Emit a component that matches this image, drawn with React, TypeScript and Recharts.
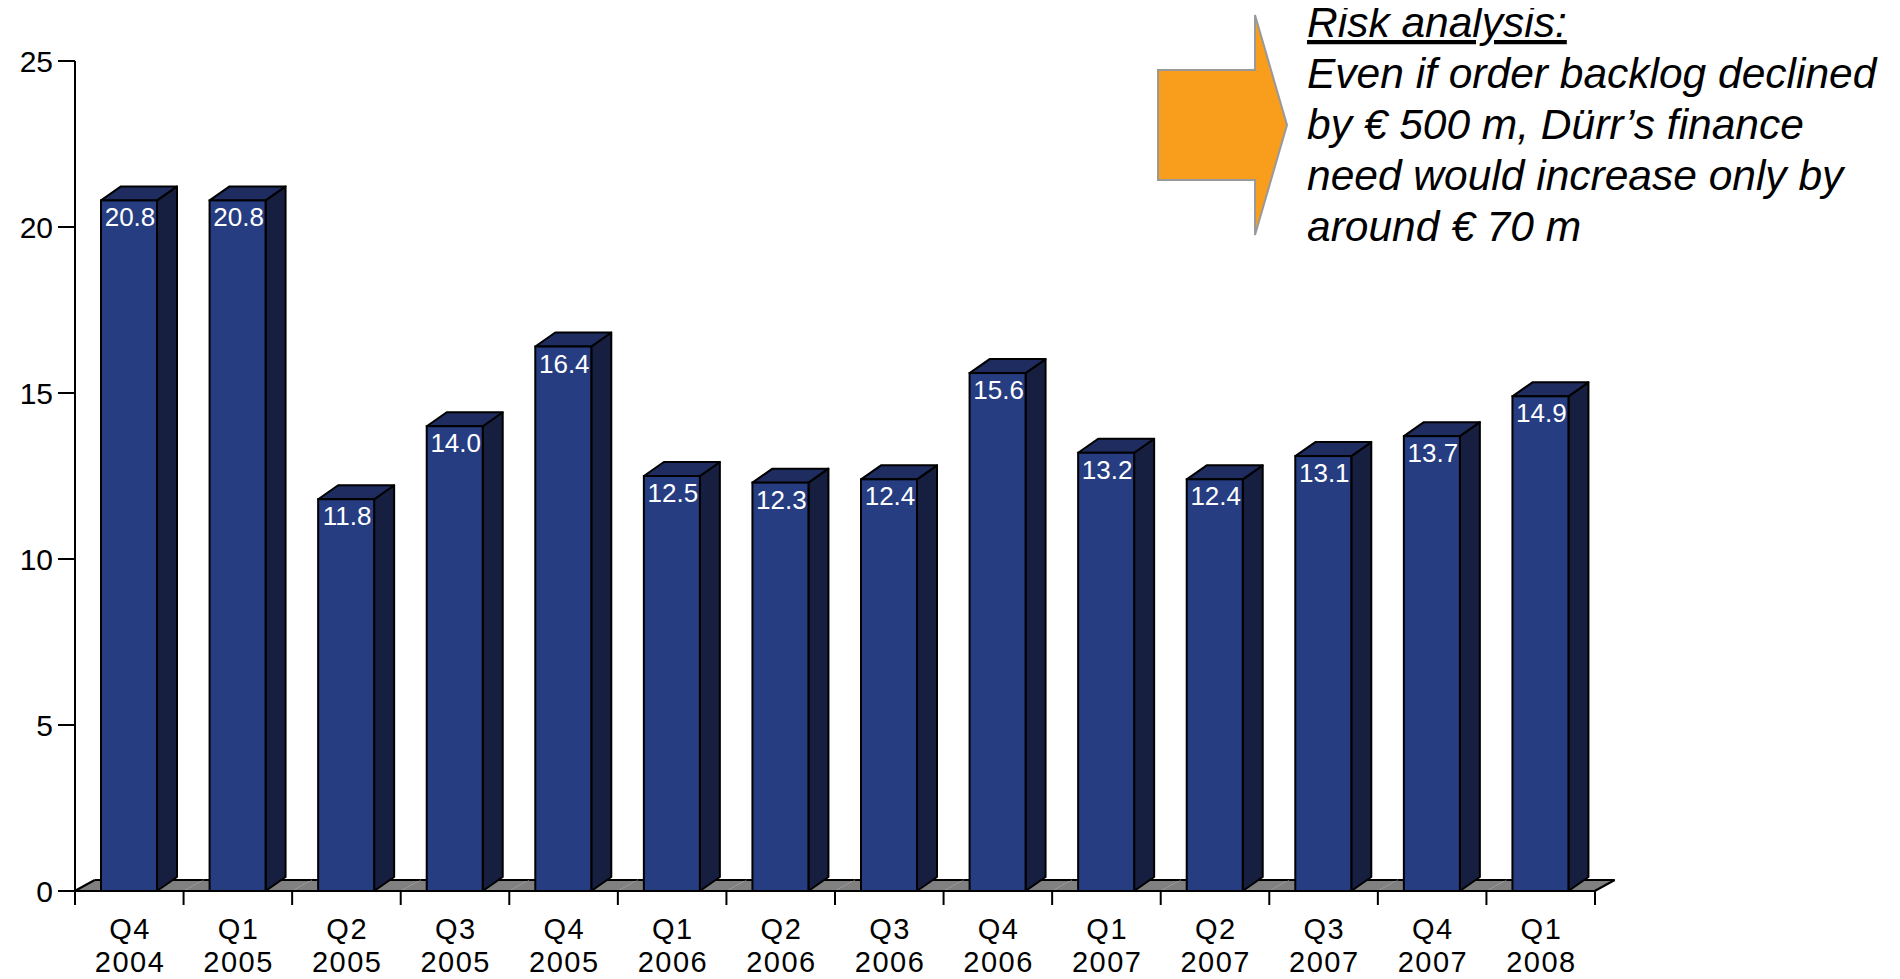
import React from 'react';
import { BarChart, Bar, XAxis, YAxis, LabelList } from 'recharts';

const quarters = ['Q4', 'Q1', 'Q2', 'Q3', 'Q4', 'Q1', 'Q2', 'Q3', 'Q4', 'Q1', 'Q2', 'Q3', 'Q4', 'Q1'];
const years = ['2004', '2005', '2005', '2005', '2005', '2006', '2006', '2006', '2006', '2007', '2007', '2007', '2007', '2008'];
const backlog = [20.8, 20.8, 11.8, 14.0, 16.4, 12.5, 12.3, 12.4, 15.6, 13.2, 12.4, 13.1, 13.7, 14.9];
const yTicks = [0, 5, 10, 15, 20, 25];
const noteLines = [
  'Even if order backlog declined',
  'by € 500 m, Dürr’s finance',
  'need would increase only by',
  'around € 70 m',
];

const data = quarters.map((q, i) => ({ name: `${q} ${years[i]}`, value: backlog[i] }));

const CHART_W = 1884;
const CHART_H = 971;
const MARGIN = { top: 53, right: 297, left: 7, bottom: 0 };
const Y_AXIS_W = 60;
const PLOT_W = CHART_W - MARGIN.left - MARGIN.right - Y_AXIS_W;
const BAND = PLOT_W / data.length;

// 3d depth of the columns and of the floor
const DX = 20;
const DY = 14;
const FLOOR_DY = 11;

const FRONT = '#263d82';
const TOP = '#1f2c5f';
const SIDE = '#161f40';
const FLOOR = '#808080';

const Column3D = (props: any) => {
  const { x, y, width, height, index } = props;
  const base = y + height;
  const cx = x + width / 2;
  const bl = cx - BAND / 2;
  const br = cx + BAND / 2;
  const last = index === data.length - 1;
  return (
    <g>
      <polygon
        points={`${bl},${base} ${br},${base} ${br + DX},${base - FLOOR_DY} ${bl + DX},${base - FLOOR_DY}`}
        fill={FLOOR}
      />
      <line x1={bl + DX} y1={base - FLOOR_DY} x2={br + DX} y2={base - FLOOR_DY} stroke="#000" strokeWidth={2} />
      {index === 0 && (
        <line x1={bl} y1={base} x2={bl + DX} y2={base - FLOOR_DY} stroke="#000" strokeWidth={2} />
      )}
      {last && <line x1={br} y1={base} x2={br + DX} y2={base - FLOOR_DY} stroke="#000" strokeWidth={2} />}
      <polygon
        points={`${x + width},${y} ${x + width + DX},${y - DY} ${x + width + DX},${base - DY} ${x + width},${base}`}
        fill={SIDE}
        stroke="#000"
        strokeWidth={2}
        strokeLinejoin="round"
      />
      <polygon
        points={`${x},${y} ${x + DX},${y - DY} ${x + width + DX},${y - DY} ${x + width},${y}`}
        fill={TOP}
        stroke="#000"
        strokeWidth={2}
        strokeLinejoin="round"
      />
      <rect x={x} y={y} width={width} height={height} fill={FRONT} stroke="#000" strokeWidth={2} />
    </g>
  );
};

const ValueLabel = (props: any) => {
  const { x, y, width, value } = props;
  return (
    <text x={x + width / 2 + 1} y={y + 26} fill="#fff" fontSize={26} textAnchor="middle">
      {Number(value).toFixed(1)}
    </text>
  );
};

const QuarterTick = (props: any) => {
  const { x, y, payload, index } = props;
  const [q, yr] = String(payload.value).split(' ');
  const left = x - BAND / 2;
  return (
    <g>
      <line x1={left} y1={y} x2={left} y2={y + 14} stroke="#000" strokeWidth={2} />
      {index === data.length - 1 && (
        <line x1={left + BAND} y1={y} x2={left + BAND} y2={y + 14} stroke="#000" strokeWidth={2} />
      )}
      <text x={x + 0.75} y={y + 48} textAnchor="middle" fontSize={29} letterSpacing={1.5} fill="#000">
        {q}
      </text>
      <text x={x + 0.75} y={y + 81} textAnchor="middle" fontSize={29} letterSpacing={1.5} fill="#000">
        {yr}
      </text>
    </g>
  );
};

const App: React.FC = () => {
  return (
    <div style={{ position: 'relative', width: CHART_W, height: CHART_H, fontFamily: '"Liberation Sans", Arial, sans-serif' }}>
      <BarChart width={CHART_W} height={CHART_H} data={data} margin={MARGIN}>
        <XAxis
          dataKey="name"
          height={88}
          interval={0}
          tickLine={false}
          tickSize={0}
          tickMargin={0}
          axisLine={{ stroke: '#000', strokeWidth: 2 }}
          tick={<QuarterTick />}
        />
        <YAxis
          width={Y_AXIS_W}
          domain={[0, 25]}
          ticks={yTicks}
          interval={0}
          tickSize={17}
          tickMargin={5}
          axisLine={{ stroke: '#000', strokeWidth: 2 }}
          tickLine={{ stroke: '#000', strokeWidth: 2 }}
          tick={{ fill: '#000', fontSize: 30 }}
        />
        <Bar dataKey="value" barSize={56} shape={<Column3D />} isAnimationActive={false}>
          <LabelList dataKey="value" content={<ValueLabel />} />
        </Bar>
      </BarChart>
      <svg
        width={1900}
        height={979}
        style={{ position: 'absolute', left: -8, top: -8, pointerEvents: 'none' }}
      >
        <polygon
          points="1158,70 1255,70 1255,15 1287,125 1255,235 1255,180 1158,180"
          fill="#f99d1c"
          stroke="#999"
          strokeWidth={2}
        />
        <g fontStyle="italic" fontSize={42.5} fill="#000">
          <text x={1307} y={37} textDecoration="underline" style={{ textDecoration: 'underline' }}>
            Risk analysis:
          </text>
          {noteLines.map((line, i) => (
            <text key={line} x={1307} y={88 + i * 51}>
              {line}
            </text>
          ))}
        </g>
      </svg>
    </div>
  );
};

export default App;
